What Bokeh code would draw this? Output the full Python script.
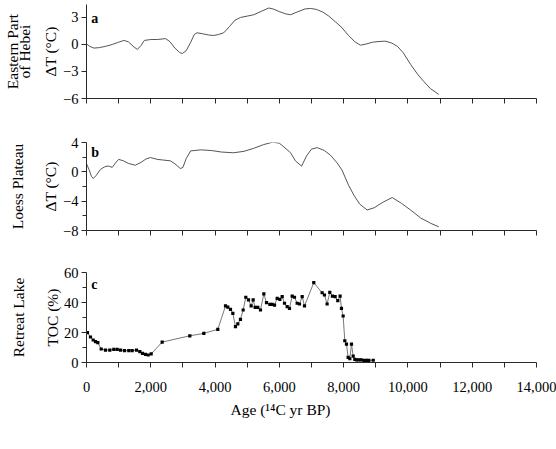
import math
from bokeh.plotting import figure
from bokeh.layouts import column
from bokeh.models import Label, FixedTicker, Range1d, LinearAxis, Title
from bokeh.embed import file_html
from bokeh.resources import INLINE

FONT = "Liberation Serif"

# ---------------- data ----------------
hebei_age = [0, 100, 230, 400, 600, 800, 1000, 1160, 1300, 1450, 1580, 1700, 1800, 2000,
             2200, 2460, 2600, 2750, 2900, 2980, 3100, 3250, 3350, 3440, 3600, 3800, 3960,
             4100, 4270, 4450, 4620, 4790, 5000, 5200, 5450, 5670, 5800, 6000, 6200, 6350,
             6550, 6800, 6970, 7150, 7350, 7540, 7750, 7950, 8150, 8350, 8520, 8700, 8900,
             9100, 9300, 9500, 9670, 9850, 10080, 10300, 10490, 10700, 10960]
hebei_dt = [0.05, -0.2, -0.4, -0.35, -0.2, 0.0, 0.25, 0.45, 0.3, -0.2, -0.55, -0.1, 0.45, 0.55,
            0.55, 0.65, 0.3, -0.4, -0.9, -1.0, -0.7, 0.3, 1.1, 1.3, 1.2, 1.05, 1.0,
            1.1, 1.3, 2.0, 2.7, 3.0, 3.15, 3.3, 3.7, 4.05, 3.95, 3.65, 3.4, 3.3,
            3.6, 3.95, 4.0, 3.9, 3.6, 3.15, 2.5, 1.85, 1.0, 0.3, -0.08, 0.05, 0.25,
            0.33, 0.37, 0.15, -0.2, -0.9, -2.2, -3.3, -4.1, -4.9, -5.55]

loess_age = [0, 80, 150, 210, 300, 435, 550, 640, 720, 800, 900, 1000, 1150, 1300, 1520,
             1700, 1850, 1990, 2200, 2400, 2610, 2750, 2920, 3000, 3100, 3240, 3550, 3900,
             4200, 4580, 4900, 5200, 5500, 5800, 6000, 6140, 6350, 6500, 6690, 6850, 7000,
             7180, 7400, 7590, 7800, 7950, 8150, 8320, 8500, 8730, 8950, 9200, 9510, 9800,
             10080, 10400, 10700, 10960]
loess_dt = [1.1, 0.3, -0.6, -0.9, -0.5, 0.33, 0.65, 0.78, 0.75, 0.6, 1.2, 1.7, 1.5, 1.15, 0.9,
            1.3, 1.75, 1.95, 1.7, 1.6, 1.5, 1.1, 0.45, 0.6, 1.8, 2.85, 3.0, 2.9,
            2.7, 2.6, 2.8, 3.2, 3.7, 4.05, 3.9, 3.4, 2.6, 1.5, 0.78, 2.2, 3.1,
            3.3, 2.9, 2.27, 1.2, 0.23, -1.8, -3.2, -4.4, -5.2, -4.9, -4.2, -3.5, -4.3,
            -5.2, -6.3, -7.0, -7.5]

lake_age = [30, 124, 208, 280, 352, 457, 590, 725, 850, 954, 1058, 1182, 1316, 1420, 1556,
            1659, 1742, 1836, 1919, 2012, 2354, 3214, 3650, 4085, 4325, 4396, 4480, 4553,
            4635, 4707, 4790, 4874, 4956, 5040, 5123, 5185, 5247, 5330, 5413, 5517, 5600,
            5704, 5777, 5849, 5932, 6015, 6088, 6160, 6243, 6315, 6399, 6471, 6554, 6626,
            6710, 6782, 7071, 7331, 7403, 7486, 7569, 7652, 7735, 7818, 7890, 7932, 7984,
            8036, 8088, 8140, 8192, 8244, 8296, 8348, 8400, 8472, 8546, 8628, 8711, 8784,
            8920]
lake_toc = [19.9, 17.0, 15.0, 13.9, 13.2, 9.0, 8.3, 8.3, 8.8, 8.8, 8.3, 7.9, 7.9, 7.9, 8.3,
            7.2, 6.1, 5.4, 5.0, 5.7, 13.6, 17.8, 19.4, 22.1, 37.7, 36.9, 35.4, 32.8,
            23.9, 25.7, 28.8, 35.0, 43.5, 41.7, 37.7, 41.7, 36.8, 36.8, 35.0, 45.7, 39.9,
            38.8, 38.8, 38.3, 42.8, 42.1, 43.9, 39.5, 37.2, 36.1, 44.3, 43.5, 39.5, 39.0,
            43.9, 37.7, 53.2, 46.5, 45.0, 39.0, 46.8, 44.3, 43.9, 41.2, 44.3, 36.1, 31.0,
            14.5, 12.3, 3.4, 2.5, 12.3, 4.3, 2.1, 1.7, 1.7, 1.7, 1.4, 1.4, 1.4,
            1.5]

x_ticks = [0, 2000, 4000, 6000, 8000, 10000, 12000, 14000]
x_minor = [1000, 3000, 5000, 7000, 9000, 11000, 13000]
x_tick_labels = ["0", "2,000", "4,000", "6,000", "8,000", "10,000", "12,000", "14,000"]

panel_letters = ["a", "b", "c"]
region_names = [["of Hebei", "Eastern Part"], ["Loess Plateau"], ["Retreat Lake"]]
y_titles = ["\u0394T (\u00b0C)", "\u0394T (\u00b0C)", "TOC (%)"]
x_title = "Age (\u00b9\u2074C yr BP)"

AX = "#2a2a2a"
LINE = "#555555"
TXT = "15.5px"


def base(frame_h, top, bottom, yr, yticks, yminor, labels, ytitle, ystandoff):
    p = figure(frame_width=450, frame_height=frame_h, min_border_left=86,
               min_border_right=20, min_border_top=top, min_border_bottom=bottom,
               x_range=Range1d(0, 14000), y_range=Range1d(*yr),
               output_backend="svg", toolbar_location=None)
    p.grid.visible = False
    p.outline_line_color = None
    p.background_fill_color = "white"
    p.border_fill_color = "white"
    xa = p.xaxis[0]
    xa.ticker = FixedTicker(ticks=x_ticks, minor_ticks=x_minor)
    if labels:
        xa.major_label_overrides = {t: s for t, s in zip(x_ticks, x_tick_labels)}
    else:
        xa.major_label_overrides = {t: "" for t in x_ticks}
    ya = p.yaxis[0]
    ya.ticker = FixedTicker(ticks=yticks, minor_ticks=yminor)
    for ax in (xa, ya):
        ax.axis_line_color = AX
        ax.major_tick_line_color = AX
        ax.minor_tick_line_color = AX
        ax.major_tick_in = 0
        ax.minor_tick_in = 0
        ax.major_tick_out = 5
        ax.major_label_text_font = FONT
        ax.major_label_text_font_size = "14.5px"
        ax.major_label_text_color = "black"
    xa.minor_tick_out = 5
    ya.minor_tick_out = 4
    xa.major_label_standoff = 14
    ya.major_label_standoff = 3
    ya.axis_label = ytitle
    ya.axis_label_standoff = ystandoff
    ya.axis_label_text_font = FONT
    ya.axis_label_text_font_size = TXT
    ya.axis_label_text_font_style = "normal"
    ya.axis_label_text_color = "black"
    return p


def name_axis(p, text, standoff):
    ax = LinearAxis(ticker=FixedTicker(ticks=[]), axis_line_color=None,
                    major_tick_out=0, minor_tick_out=0, major_tick_in=0, minor_tick_in=0,
                    major_label_standoff=0, axis_label=text, axis_label_standoff=standoff,
                    axis_label_text_font=FONT, axis_label_text_font_size=TXT,
                    axis_label_text_font_style="normal", axis_label_text_color="black")
    p.add_layout(ax, "left")


def letter(p, x, y, text):
    p.add_layout(Label(x=x, y=y, text=text, text_font=FONT, text_font_size="14px",
                       text_font_style="bold", text_align="left", text_baseline="middle",
                       text_color="black"))


# panel a
pa = base(94, 4, 22, (-6, 4.44), [-6, -3, 0, 3], [], False, y_titles[0], 1)
pa.line(hebei_age, hebei_dt, line_color=LINE, line_width=1)
letter(pa, 150, 2.9, panel_letters[0])
name_axis(pa, region_names[0][0], 7)
name_axis(pa, region_names[0][1], -8)

# panel b
pb = base(88, 22, 20, (-8, 4), [-8, -4, 0, 4], [-6, -2, 2], False, y_titles[1], 1)
pb.line(loess_age, loess_dt, line_color=LINE, line_width=1)
letter(pb, 150, 2.6, panel_letters[1])
name_axis(pb, region_names[1][0], 14)

# panel c
pc = base(90, 22, 87, (0, 60), [0, 20, 40, 60], [10, 30, 50], True, y_titles[2], 0)
pc.line(lake_age, lake_toc, line_color="#777777", line_width=1)
pc.scatter(lake_age, lake_toc, marker="square", size=3.2, fill_color="black", line_color=None)
letter(pc, 150, 52, panel_letters[2])
name_axis(pc, region_names[2][0], 14)
pc.add_layout(Title(text=x_title, align="left", offset=144, vertical_align="top",
                    standoff=13, text_font=FONT, text_font_size=TXT,
                    text_font_style="normal", text_color="black"), "below")

layout = column(pa, pb, pc, spacing=0)
open("out.html", "w").write(file_html(layout, INLINE))
